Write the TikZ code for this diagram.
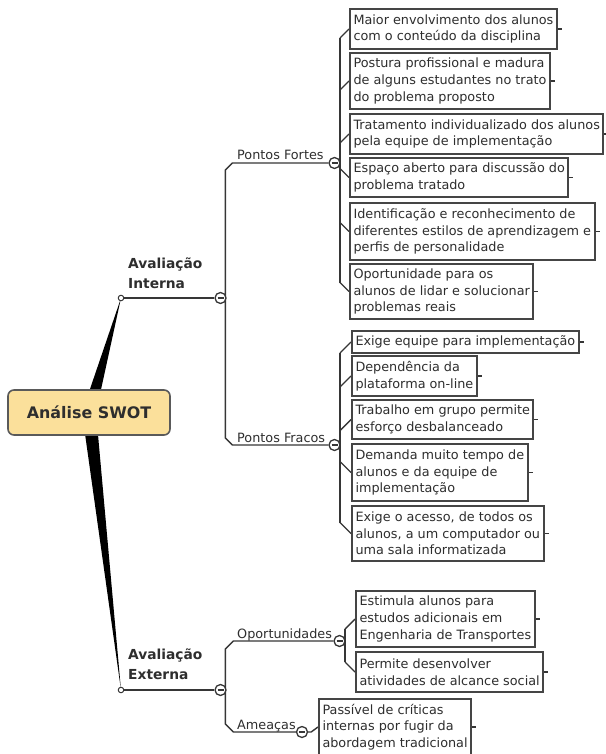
\documentclass[tikz,border=0pt]{standalone}
\usepackage{fontspec}
\setmainfont{DejaVu Sans}
\usetikzlibrary{calc,backgrounds}
\definecolor{ink}{HTML}{2E2E2E}
\definecolor{lin}{HTML}{363636}
\definecolor{rootfill}{HTML}{FBE09B}
\definecolor{rootdraw}{HTML}{5A5A5A}
\definecolor{boxdraw}{HTML}{454545}
\begin{document}
\begin{tikzpicture}[x=1pt,y=-1pt,
  every node/.style={text=ink},
  idea/.style={draw=boxdraw, line width=2pt, fill=white, align=left, anchor=north west,
    inner xsep=3.5pt, inner ysep=2pt, font=\fontsize{12.8}{16.7}\selectfont},
  lab/.style={inner sep=0pt, anchor=base west, font=\fontsize{12.8}{15}\selectfont},
  big/.style={inner sep=0pt, anchor=north west, align=left, font=\bfseries\fontsize{13.8}{20}\selectfont},
  rootbox/.style={draw=rootdraw, line width=1.6pt, fill=rootfill, rounded corners=6pt,
    minimum width=162pt, minimum height=45pt, font=\bfseries\fontsize{15.9}{19}\selectfont},
  minus/.style={circle, draw=lin, fill=white, line width=1.3pt, minimum size=11pt, inner sep=0pt,
    path picture={\draw[lin, line width=1.1pt] ([xshift=2.5pt]path picture bounding box.west) -- ([xshift=-2.5pt]path picture bounding box.east);}},
  dotnode/.style={circle, draw=lin, fill=white, line width=1pt, minimum size=5.5pt, inner sep=0pt},
  conn/.style={draw=lin, line width=1.4pt},
  stub/.style={draw=lin, line width=1.4pt}
]
\useasboundingbox (0,0) rectangle (605,754);

% root
\node[rootbox] (root) at (89,412.5) {Análise SWOT};

% main branches
\node[dotnode] (dI) at (121,298) {};
\node[dotnode] (dE) at (121,690) {};
\node[big] (tI) at (128,258) {Avaliação\\Interna};
\node[big] (tE) at (128,649) {Avaliação\\Externa};
\node[minus] (cI) at (220.5,298) {};
\node[minus] (cE) at (220.5,690) {};

% sub branches
\node[lab] (lpf) at (237,160) {Pontos Fortes};
\node[lab] (lpw) at (237,442) {Pontos Fracos};
\node[lab] (lop) at (237,638) {Oportunidades};
\node[lab] (lam) at (237,729) {Ameaças};
\node[minus] (cpf) at (334.5,163) {};
\node[minus] (cpw) at (334.5,445) {};
\node[minus] (cop) at (339.5,641) {};
\node[minus] (cam) at (302,732) {};

% topic boxes
\node[idea, minimum height=40pt] (b1) at (349,8) {Maior envolvimento dos alunos\\com o conteúdo da disciplina};
\node[idea, minimum height=56pt] (b2) at (349,52) {Postura profissional e madura\\de alguns estudantes no trato\\do problema proposto};
\node[idea, minimum height=40pt] (b3) at (349,113) {Tratamento individualizado dos alunos\\pela equipe de implementação};
\node[idea, minimum height=39pt] (b4) at (349,157) {Espaço aberto para discussão do\\problema tratado};
\node[idea, minimum height=57pt] (b5) at (349,202) {Identificação e reconhecimento de\\diferentes estilos de aprendizagem e\\perfis de personalidade};
\node[idea, minimum height=55pt] (b6) at (349,263) {Oportunidade para os\\alunos de lidar e solucionar\\problemas reais};

\node[idea, minimum height=22pt] (b7) at (351,330) {Exige equipe para implementação};
\node[idea, minimum height=40pt] (b8) at (351,355) {Dependência da\\plataforma on-line};
\node[idea, minimum height=39pt] (b9) at (351,399) {Trabalho em grupo permite\\esforço desbalanceado};
\node[idea, minimum height=57pt] (b10) at (351,443) {Demanda muito tempo de\\alunos e da equipe de\\implementação};
\node[idea, minimum height=55pt] (b11) at (351,505) {Exige o acesso, de todos os\\alunos, a um computador ou\\uma sala informatizada};

\node[idea, minimum height=56pt] (b12) at (355,590) {Estimula alunos para\\estudos adicionais em\\Engenharia de Transportes};
\node[idea, minimum height=40pt] (b13) at (355,651) {Permite desenvolver\\atividades de alcance social};

\node[idea, minimum height=56pt] (b14) at (318,698) {Passível de críticas\\internas por fugir da\\abordagem tradicional};

\begin{pgfonlayer}{background}
  % tapered trunks from the root
  \fill[black] ($(root.center)+(-7,0)$) -- (dI.center) -- ($(root.center)+(7,0)$) -- cycle;
  \fill[black] ($(root.center)+(-7,0)$) -- (dE.center) -- ($(root.center)+(7,0)$) -- cycle;
  % main branch lines
  \draw[conn] (dI) -- (cI);
  \draw[conn] (dE) -- (cE);
  % Avaliacao Interna spine
  \draw[conn] (cpf.west) -- ++(-96,0) -- ++(-7,7) -- ++(0,268) -- ++(7,7) -- (cpw.west);
  % Avaliacao Externa spine
  \draw[conn] (cop.west) -- ++(-100,0) -- ++(-8,8) -- ++(0,75) -- ++(8,8) -- (cam.west);
  % Pontos Fortes children
  \draw[conn] ($(b1.west)+(-9,9)$) -- ($(b6.west)+(-9,-9)$);
  \draw[conn] (b1.west) -- ++(-9,9);
  \draw[conn] (b2.west) -- ++(-9,9);
  \draw[conn] (b3.west) -- ++(-9,9);
  \draw[conn] (b4.west) -- ++(-9,-9);
  \draw[conn] (b5.west) -- ++(-9,-9);
  \draw[conn] (b6.west) -- ++(-9,-9);
  % Pontos Fracos children
  \draw[conn] ($(b7.west)+(-11,11)$) -- ($(b11.west)+(-11,-11)$);
  \draw[conn] (b7.west) -- ++(-11,11);
  \draw[conn] (b8.west) -- ++(-11,11);
  \draw[conn] (b9.west) -- ++(-11,11);
  \draw[conn] (b10.west) -- ++(-11,-11);
  \draw[conn] (b11.west) -- ++(-11,-11);
  % Oportunidades children
  \draw[conn] ($(b12.west)+(-10,10)$) -- ($(b13.west)+(-10,-10)$);
  \draw[conn] (b12.west) -- ++(-10,10);
  \draw[conn] (b13.west) -- ++(-10,-10);
  % Ameacas child
  \draw[conn] (cam.east) -- ++(3,0) -- (b14.west);
  % right-side stubs
  \foreach \b in {b1,b2,b3,b4,b5,b6,b7,b8,b9,b10,b11,b12,b13,b14}
    \draw[stub] (\b.east) -- ++(4,0);
\end{pgfonlayer}
\end{tikzpicture}
\end{document}
